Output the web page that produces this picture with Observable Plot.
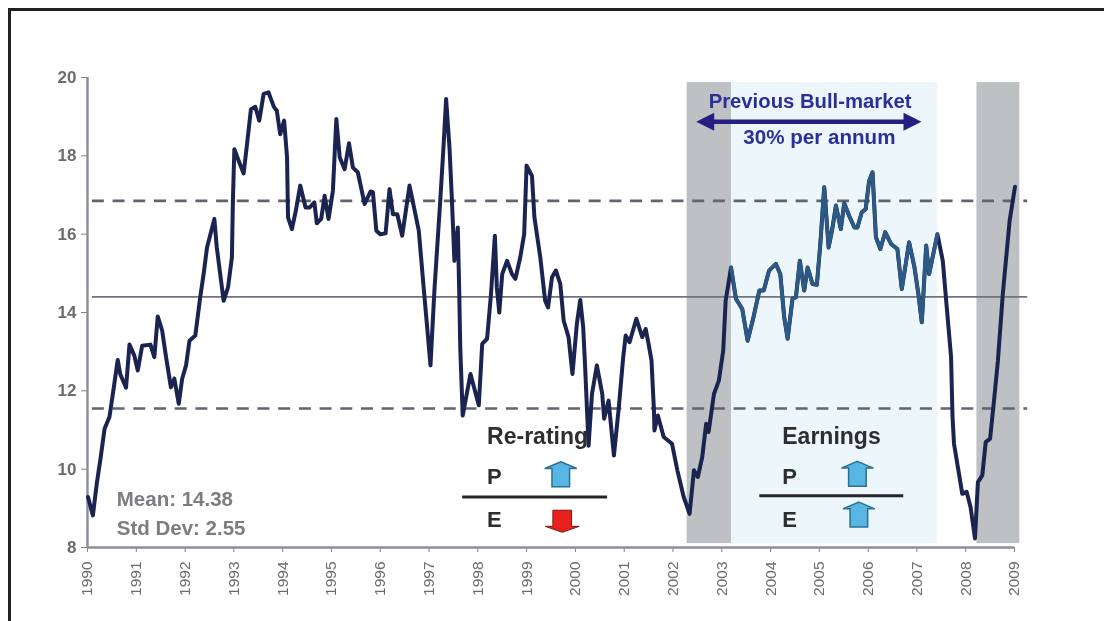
<!DOCTYPE html>
<html>
<head>
<meta charset="utf-8">
<script src="https://cdn.jsdelivr.net/npm/d3@7"></script>
<script src="https://cdn.jsdelivr.net/npm/@observablehq/plot@0.6"></script>
<style>
html,body{margin:0;padding:0;background:#fff;width:1104px;height:621px;overflow:hidden}
#frame{position:absolute;left:8px;top:8px;width:1096px;height:613px;border-left:3px solid #222;border-top:3px solid #222;box-sizing:border-box;pointer-events:none}
#chart{position:absolute;left:0;top:0}
#chart svg{display:block;filter:blur(0.6px)}
</style>
</head>
<body>
<div id="chart"></div>
<div id="frame"></div>
<script>
const dates = [1990.01,1990.11,1990.19,1990.27,1990.35,1990.45,1990.53,1990.62,1990.67,1990.79,1990.86,1990.96,1991.03,1991.12,1991.29,1991.37,1991.44,1991.53,1991.61,1991.71,1991.78,1991.87,1991.94,1992.02,1992.09,1992.21,1992.31,1992.38,1992.45,1992.6,1992.65,1992.79,1992.88,1992.96,1992.98,1993.01,1993.1,1993.2,1993.27,1993.35,1993.44,1993.52,1993.61,1993.71,1993.82,1993.88,1993.95,1994.03,1994.09,1994.11,1994.19,1994.27,1994.36,1994.47,1994.55,1994.65,1994.7,1994.79,1994.86,1994.94,1995.03,1995.1,1995.17,1995.27,1995.36,1995.44,1995.54,1995.68,1995.8,1995.85,1995.92,1996.0,1996.11,1996.19,1996.26,1996.35,1996.45,1996.6,1996.79,1996.89,1997.03,1997.11,1997.23,1997.3,1997.35,1997.42,1997.47,1997.52,1997.59,1997.62,1997.64,1997.69,1997.85,1998.02,1998.09,1998.19,1998.27,1998.35,1998.39,1998.44,1998.5,1998.6,1998.7,1998.77,1998.87,1998.95,1999.0,1999.11,1999.16,1999.28,1999.38,1999.44,1999.52,1999.6,1999.69,1999.76,1999.86,1999.94,2000.03,2000.1,2000.16,2000.2,2000.27,2000.34,2000.44,2000.55,2000.59,2000.68,2000.79,2000.89,2000.98,2001.03,2001.11,2001.25,2001.37,2001.44,2001.5,2001.56,2001.61,2001.62,2001.69,2001.81,2001.98,2002.09,2002.22,2002.34,2002.43,2002.51,2002.6,2002.68,2002.73,2002.84,2002.94,2003.03,2003.08,2003.19,2003.29,2003.42,2003.53,2003.65,2003.77,2003.86,2003.97,2004.11,2004.2,2004.28,2004.35,2004.45,2004.52,2004.6,2004.69,2004.76,2004.86,2004.95,2005.02,2005.1,2005.19,2005.27,2005.34,2005.44,2005.51,2005.61,2005.72,2005.78,2005.87,2005.95,2006.02,2006.09,2006.16,2006.25,2006.35,2006.47,2006.6,2006.69,2006.84,2006.95,2007.03,2007.1,2007.19,2007.25,2007.42,2007.53,2007.6,2007.7,2007.73,2007.76,2007.93,2008.02,2008.1,2008.19,2008.25,2008.34,2008.41,2008.5,2008.58,2008.66,2008.76,2008.9,2009.01];
const values = [9.29,8.82,9.63,10.3,11.03,11.33,12.01,12.79,12.43,12.08,13.18,12.9,12.52,13.15,13.18,12.86,13.9,13.54,12.86,12.09,12.31,11.67,12.31,12.65,13.28,13.41,14.39,14.98,15.66,16.39,15.66,14.3,14.64,15.41,16.85,18.17,17.87,17.55,18.3,19.19,19.25,18.9,19.58,19.62,19.25,19.15,18.55,18.9,17.96,16.43,16.13,16.6,17.24,16.68,16.68,16.81,16.28,16.39,16.98,16.39,17.11,18.94,17.96,17.66,18.32,17.7,17.58,16.77,17.09,17.07,16.09,16.0,16.02,17.15,16.51,16.51,15.96,17.24,16.09,14.64,12.65,14.56,16.85,18.3,19.45,18.2,16.85,15.32,16.17,14.47,13.11,11.37,12.43,11.63,13.2,13.33,14.47,15.96,14.64,14.0,14.98,15.32,14.98,14.86,15.41,16.0,17.75,17.49,16.43,15.41,14.3,14.13,14.9,15.07,14.73,13.79,13.37,12.43,13.71,14.32,13.62,12.6,10.6,11.92,12.65,11.92,11.29,11.75,10.35,11.58,12.86,13.41,13.24,13.84,13.37,13.58,13.2,12.77,11.5,10.99,11.37,10.82,10.65,9.97,9.29,8.86,9.97,9.8,10.31,11.16,10.95,11.92,12.26,13.03,14.3,15.15,14.35,14.09,13.28,13.88,14.56,14.56,15.07,15.24,14.98,13.88,13.33,14.35,14.39,15.32,14.56,15.15,14.73,14.71,15.75,17.2,15.66,16.17,16.73,16.13,16.79,16.47,16.17,16.17,16.56,16.64,17.36,17.58,15.92,15.62,16.05,15.75,15.62,14.6,15.79,15.15,14.47,13.75,15.71,14.98,16.0,15.32,14.3,12.86,11.33,10.65,9.37,9.42,9.03,8.23,9.67,9.84,10.69,10.78,11.75,12.77,14.47,16.34,17.21];
const xTicks = d3.range(1990, 2010);
const yTicks = [8,10,12,14,16,18,20];
const mean = 14.4, upper = 16.85, lower = 11.55;
const grayBands = [[2002.29,2003.2],[2008.23,2009.11]];
const paleBand = [2003.2,2007.42];
const bandTop = 19.87, bandBottom = 8.1;
const guideStart = 1990.1, guideEnd = 2009.27;

const series = dates.map((d,i)=>({d, v:values[i]}));
const paleSeries = series.filter(p=>p.d>=paleBand[0]-0.02 && p.d<=paleBand[1]+0.02);

const upArrow = {draw(c,size){const r=Math.sqrt(size/Math.PI);
  c.moveTo(0,-0.78*r);c.lineTo(r,-0.36*r);c.lineTo(0.55*r,-0.36*r);c.lineTo(0.55*r,0.78*r);c.lineTo(-0.55*r,0.78*r);c.lineTo(-0.55*r,-0.36*r);c.lineTo(-r,-0.36*r);c.closePath();}};
const downArrow = {draw(c,size){const r=Math.sqrt(size/Math.PI);
  c.moveTo(0,0.65*r);c.lineTo(r,0.3*r);c.lineTo(0.55*r,0.3*r);c.lineTo(0.55*r,-0.65*r);c.lineTo(-0.55*r,-0.65*r);c.lineTo(-0.55*r,0.3*r);c.lineTo(-r,0.3*r);c.closePath();}};
const headRight = {draw(c,size){const r=Math.sqrt(size/Math.PI);
  c.moveTo(r,0);c.lineTo(-r,-r);c.lineTo(-r,r);c.closePath();}};
const headLeft = {draw(c,size){const r=Math.sqrt(size/Math.PI);
  c.moveTo(-r,0);c.lineTo(r,-r);c.lineTo(r,r);c.closePath();}};

const font = "'Liberation Sans', Arial, sans-serif";
const navy = "#1b2450", indigo = "#2b2f98", ink = "#2e2e2e", grey = "#7b7d80";
const label = (t,x,y,opt={}) => Plot.text([t],{x:()=>x,y:()=>y,text:d=>d,fontWeight:"bold",fontFamily:font,fontSize:20.3,fill:ink,textAnchor:"start",...opt});

const chart = Plot.plot({
  width:1104, height:621,
  marginLeft:87, marginRight:90, marginTop:77, marginBottom:74,
  x:{domain:[1990,2009], label:null},
  y:{domain:[8,20], label:null},
  style:{fontFamily:font, background:"transparent", overflow:"visible"},
  marks:[
    Plot.rectX(grayBands,{x1:d=>d[0],x2:d=>d[1],y1:bandBottom,y2:bandTop,fill:"#bdc1c4"}),
    Plot.rectX([paleBand],{x1:d=>d[0],x2:d=>d[1],y1:bandBottom,y2:bandTop,fill:"#edf6fa"}),
    Plot.ruleY([mean],{x1:guideStart,x2:guideEnd,stroke:"#6f7580",strokeWidth:1.8}),
    Plot.ruleY([upper,lower],{x1:guideStart,x2:guideEnd,stroke:"#5f6670",strokeWidth:2.6,strokeDasharray:"12 8.7"}),
    Plot.axisX({ticks:xTicks,tickFormat:d=>String(d),tickRotate:-90,tickSize:5,tickPadding:9,fontSize:15.5,label:null,color:"#6a6c70",stroke:"#7f8289"}),
    Plot.axisY({ticks:yTicks,tickSize:6,tickPadding:5,fontSize:17,fontWeight:"bold",label:null,color:"#6a6c70",stroke:"#7f8289"}),
    Plot.ruleY([8],{stroke:"#8b8e95",strokeWidth:2.4}),
    Plot.ruleX([1990],{stroke:"#8b8e95",strokeWidth:2.4}),
    Plot.line(series,{x:"d",y:"v",stroke:navy,strokeWidth:4,strokeLinejoin:"round"}),
    Plot.line(paleSeries,{x:"d",y:"v",stroke:"#2c5a86",strokeWidth:3.6,strokeLinejoin:"round"}),
    Plot.ruleY([18.87],{x1:2002.62,x2:2006.95,stroke:"#241f80",strokeWidth:4.5}),
    Plot.dot([0],{x:()=>2002.66,y:()=>18.87,r:9,symbol:headLeft,fill:"#241f80",stroke:"none"}),
    Plot.dot([0],{x:()=>2006.91,y:()=>18.87,r:9,symbol:headRight,fill:"#241f80",stroke:"none"}),
    label("Previous Bull-market",2004.81,19.39,{fill:indigo,textAnchor:"middle"}),
    label("30% per annum",2005.0,18.47,{fill:indigo,textAnchor:"middle",fontSize:20.6}),
    label("Mean: 14.38",1990.6,9.23,{fill:grey,fontSize:20.5}),
    label("Std Dev: 2.55",1990.6,8.49,{fill:grey,fontSize:20.5}),
    label("Re-rating",1998.19,10.82,{fontSize:23}),
    label("P",1998.19,9.79,{fontSize:22}),
    label("E",1998.19,8.7,{fontSize:22}),
    Plot.ruleY([9.29],{x1:1997.69,x2:2000.66,stroke:"#252525",strokeWidth:3}),
    Plot.dot([0],{x:()=>1999.7,y:()=>9.87,r:16,symbol:upArrow,fill:"#58b6e2",stroke:"#2c6f96",strokeWidth:1.5}),
    Plot.dot([0],{x:()=>1999.73,y:()=>8.67,r:17,symbol:downArrow,fill:"#e8211c",stroke:"#7a1a10",strokeWidth:1}),
    label("Earnings",2004.24,10.82,{fontSize:23}),
    label("P",2004.24,9.79,{fontSize:22}),
    label("E",2004.24,8.7,{fontSize:22}),
    Plot.ruleY([9.32],{x1:2003.78,x2:2006.73,stroke:"#252525",strokeWidth:3}),
    Plot.dot([0],{x:()=>2005.78,y:()=>9.88,r:16,symbol:upArrow,fill:"#58b6e2",stroke:"#2c6f96",strokeWidth:1.5}),
    Plot.dot([0],{x:()=>2005.81,y:()=>8.84,r:16,symbol:upArrow,fill:"#58b6e2",stroke:"#2c6f96",strokeWidth:1.5})
  ]
});
document.getElementById("chart").append(chart);
</script>
</body>
</html>
